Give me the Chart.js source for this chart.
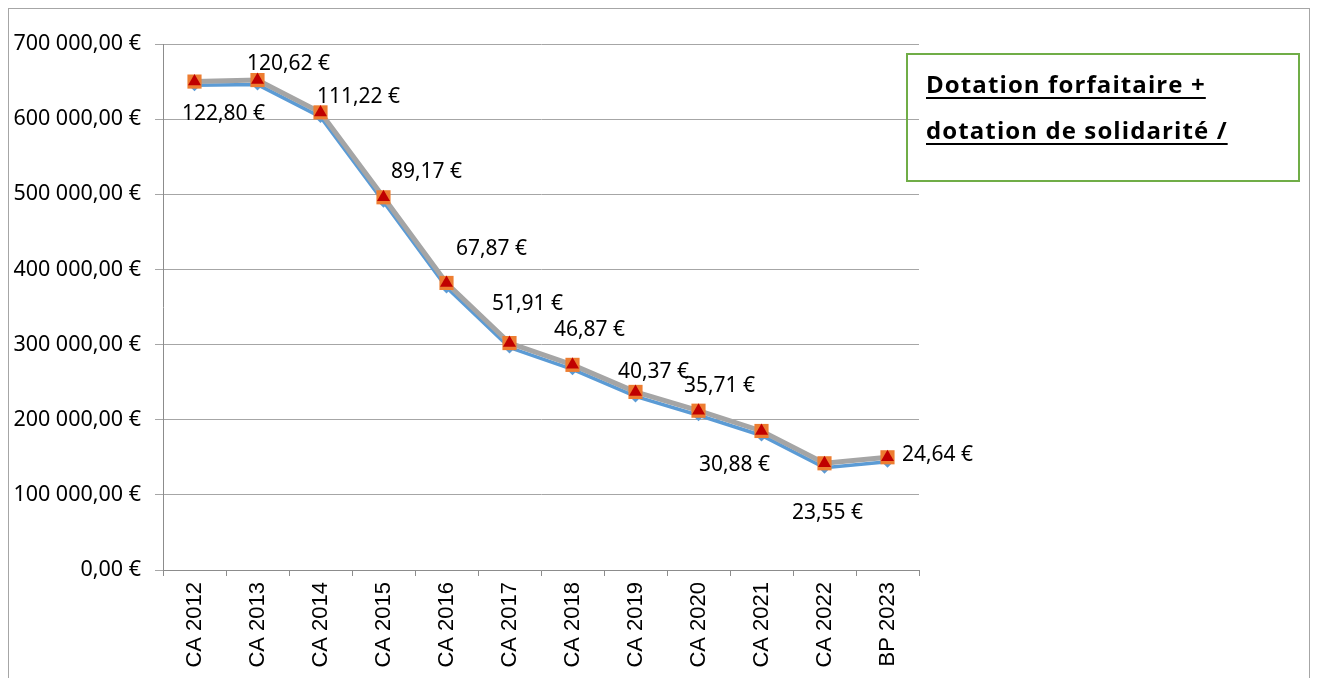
<!DOCTYPE html>
<html>
<head>
<meta charset="utf-8">
<script src="https://cdn.jsdelivr.net/npm/chart.js@4/dist/chart.umd.min.js"></script>
<style>
  body { margin: 0; background: #fff; }
  #wrap { position: relative; width: 1317px; height: 678px; overflow: hidden; }
  #frame { position: absolute; left: 8px; top: 8px; width: 1300px; height: 720px; border: 1px solid #a6a6a6; }
  #myChart { position: absolute; left: 0; top: 0; }
  #titleBox {
    position: absolute; left: 906px; top: 53px; width: 394px; height: 129px;
    border: 2px solid #70ad47; box-sizing: border-box;
    font-family: "Open Sans", sans-serif; font-weight: bold; font-size: 24px;
    letter-spacing: 1.1px; line-height: 46px; padding: 6px 0 0 18px; color: #000;
  }
  #titleBox span { text-decoration: underline; text-decoration-thickness: 2px; text-underline-offset: 4px; }
</style>
</head>
<body>
<div id="wrap">
  <div id="frame"></div>
  <canvas id="myChart" width="1317" height="678"></canvas>
  <div id="titleBox"><span>Dotation forfaitaire +</span><br><span>dotation de solidarité /</span></div>
</div>
<script>
// categories and values
const years = ['CA 2012', 'CA 2013', 'CA 2014', 'CA 2015', 'CA 2016', 'CA 2017',
  'CA 2018', 'CA 2019', 'CA 2020', 'CA 2021', 'CA 2022', 'BP 2023']

const dotationForfaitaire = [645000, 646000, 603000, 490000, 376000, 296000, 267000, 231000, 206000, 179000, 136000, 144000]
const dotationTotale = [650000, 652000, 609000, 496000, 382000, 302000, 273000, 237000, 212000, 185000, 142000, 150000]
const dotationTotaleBis = [650000, 652000, 609000, 496000, 382000, 302000, 273000, 237000, 212000, 185000, 142000, 150000]

// euros per inhabitant shown next to the points
const parHabitant = ['122,80 €', '120,62 €', '111,22 €', '89,17 €', '67,87 €', '51,91 €',
  '46,87 €', '40,37 €', '35,71 €', '30,88 €', '23,55 €', '24,64 €']

const yTicks = [0, 100000, 200000, 300000, 400000, 500000, 600000, 700000]

// where each label sits relative to its point
const labelOffsets = [[29, 32], [31, -16], [38, -15], [43, -25], [45, -34], [18, -39],
  [17, -35], [18, -20], [21, -25], [-27, 34], [3, 50], [50, -2]]

const formatEuro = (v) => {
  const s = Math.round(v).toString().replace(/\B(?=(\d{3})+(?!\d))/g, ' ')
  return s + ',00 €'
}

const labelFont = '21px "Noto Sans", sans-serif'

const perCapitaLabels = {
  id: 'perCapitaLabels',
  afterDatasetsDraw(chart) {
    const ctx = chart.ctx
    const meta = chart.getDatasetMeta(2)
    ctx.save()
    ctx.font = labelFont
    ctx.fillStyle = '#000'
    ctx.textAlign = 'center'
    ctx.textBaseline = 'middle'
    meta.data.forEach((pt, i) => {
      ctx.fillText(parHabitant[i], pt.x + labelOffsets[i][0], pt.y + labelOffsets[i][1])
    })
    ctx.restore()
  }
}

const ctx = document.querySelector('#myChart')

new Chart(ctx, {
  type: 'line',
  data: {
    labels: years,
    datasets: [
      {
        label: 'Dotation forfaitaire',
        data: dotationForfaitaire,
        borderColor: '#5b9bd5',
        backgroundColor: '#5b9bd5',
        borderWidth: 3.5,
        pointStyle: 'rectRot',
        pointRadius: 6,
        pointBorderWidth: 0,
        tension: 0,
        order: 3
      },
      {
        label: 'Dotation totale',
        data: dotationTotale,
        borderColor: '#a5a5a5',
        backgroundColor: '#ed7d31',
        pointBorderColor: '#ed7d31',
        borderWidth: 5,
        pointStyle: 'rect',
        pointRadius: 10,
        pointBorderWidth: 0,
        tension: 0,
        order: 2
      },
      {
        label: 'Dotation totale bis',
        data: dotationTotaleBis,
        showLine: false,
        backgroundColor: '#c00000',
        pointBorderColor: '#c00000',
        pointStyle: 'triangle',
        pointRadius: 7.5,
        pointBorderWidth: 0,
        order: 1
      }
    ]
  },
  options: {
    responsive: false,
    animation: false,
    layout: { padding: { top: 44, right: 398, left: 0, bottom: 0 } },
    plugins: { legend: { display: false }, tooltip: { enabled: false } },
    scales: {
      x: {
        offset: true,
        grid: { offset: true, drawOnChartArea: false, drawTicks: true, tickLength: 6, color: '#8c8c8c' },
        border: { color: '#8c8c8c', width: 1 },
        ticks: {
          minRotation: 90, maxRotation: 90, padding: 6, color: '#000',
          font: { family: '"Liberation Sans", Arial, sans-serif', size: 22 }
        },
        afterFit: (scale) => { scale.height = 108 }
      },
      y: {
        min: 0,
        max: 700000,
        afterBuildTicks: (scale) => { scale.ticks = yTicks.map(v => ({ value: v })) },
        grid: { color: '#a6a6a6', tickLength: 8, lineWidth: 1 },
        border: { color: '#8c8c8c', width: 1 },
        ticks: {
          padding: 14, color: '#000',
          font: { family: '"Noto Sans", sans-serif', size: 21.5 },
          callback: (v) => formatEuro(v)
        },
        afterFit: (scale) => { scale.width = 163 }
      }
    }
  },
  plugins: [perCapitaLabels]
})
</script>
</body>
</html>
